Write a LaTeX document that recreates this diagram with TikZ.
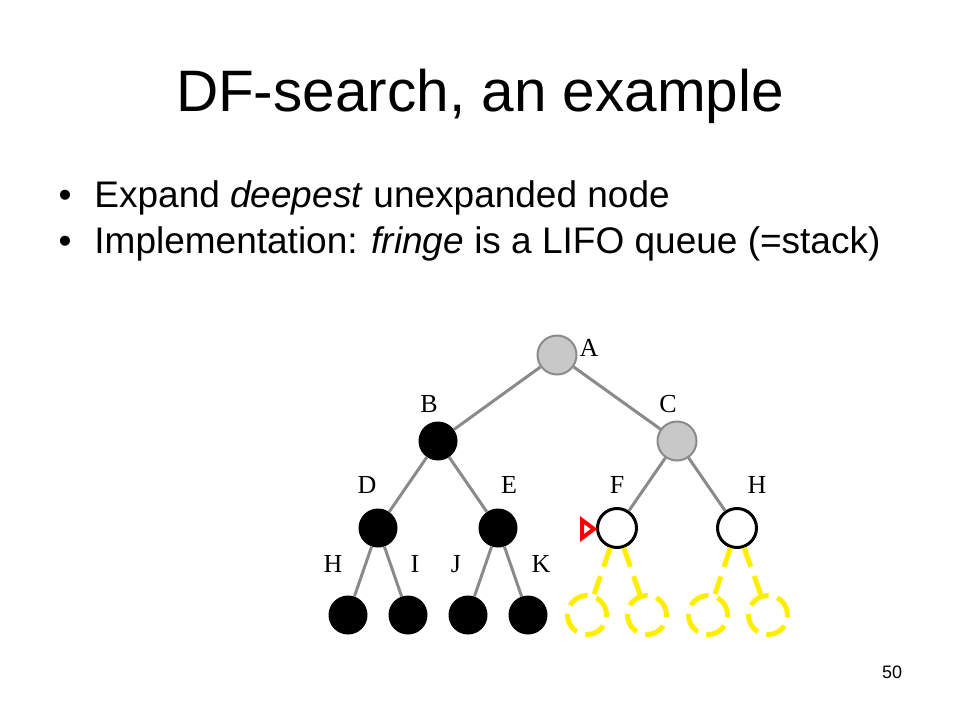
\documentclass[tikz,border=0pt]{standalone}
\usepackage{fontspec}
\setmainfont{Liberation Serif}
\setsansfont{Liberation Sans}
\usepackage{tikz}
\usepackage{xcolor}
\definecolor{edgegrey}{HTML}{8A8A8A}
\definecolor{nodegrey}{HTML}{C8C8C8}
\definecolor{fringeyellow}{HTML}{FFEE00}
\tikzset{
  tnode/.style={circle, minimum size=39pt, inner sep=0pt},
  expanded/.style={tnode, fill=black},
  visited/.style={tnode, fill=nodegrey, draw=edgegrey, line width=2pt},
  fringe/.style={tnode, fill=white, draw=black, line width=3pt},
  unseen/.style={tnode, draw=fringeyellow, line width=5pt, dash pattern=on 21pt off 9pt},
  tedge/.style={draw=edgegrey, line width=3pt},
  uedge/.style={draw=fringeyellow, line width=5pt, dash pattern=on 20pt off 10pt},
  lbl/.style={anchor=base, font=\fontsize{26}{26}\selectfont\rmfamily},
  bullet/.style={anchor=base west, font=\fontsize{37}{37}\selectfont\sffamily}
}
\begin{document}
\begin{tikzpicture}[x=1pt, y=-1pt]
        \useasboundingbox (0,0) rectangle (960,720);
        % Title and bullets
        \node[anchor=base, font=\fontsize{58.5}{58.5}\selectfont\sffamily] (title) at (480,111) {DF-search, an example};
        \node[bullet] (b1) at (55,207) {\textbullet\hspace{23pt}Expand \textit{deepest} unexpanded node};
        \node[bullet] (b2) at (55,253) {\textbullet\hspace{23pt}Implementation: \textit{fringe} is a LIFO queue (=stack)};
        % Tree nodes
        \node[visited] (A) at (557,355) {};
        \node[expanded] (B) at (438,441) {};
        \node[visited] (C) at (677,441) {};
        \node[expanded] (D) at (378,528) {};
        \node[expanded] (E) at (498,528) {};
        \node[fringe] (F) at (617,528) {};
        \node[fringe] (G) at (737,528) {};
        \node[expanded] (H) at (348,615) {};
        \node[expanded] (I) at (408,615) {};
        \node[expanded] (J) at (468,615) {};
        \node[expanded] (K) at (528,615) {};
        \node[unseen] (L) at (587,615) {};
        \node[unseen] (M) at (647,615) {};
        \node[unseen] (N) at (708,615) {};
        \node[unseen] (O) at (768,615) {};
        % Edges
        \draw[tedge] (A) -- (B);
        \draw[tedge] (A) -- (C);
        \draw[tedge] (B) -- (D);
        \draw[tedge] (B) -- (E);
        \draw[tedge] (C) -- (F);
        \draw[tedge] (C) -- (G);
        \draw[tedge] (D) -- (H);
        \draw[tedge] (D) -- (I);
        \draw[tedge] (E) -- (J);
        \draw[tedge] (E) -- (K);
        \draw[uedge] (F) -- (L);
        \draw[uedge] (F) -- (M);
        \draw[uedge] (G) -- (N);
        \draw[uedge] (G) -- (O);
        % Node letters
        \node[lbl] (lA) at (589,356) {A};
        \node[lbl] (lB) at (429,412) {B};
        \node[lbl] (lC) at (668,412) {C};
        \node[lbl] (lD) at (367,493) {D};
        \node[lbl] (lE) at (509,493) {E};
        \node[lbl] (lF) at (617,493) {F};
        \node[lbl] (lG) at (757,493) {H};
        \node[lbl] (lH) at (333,572) {H};
        \node[lbl] (lI) at (415,572) {I};
        \node[lbl] (lJ) at (456,572) {J};
        \node[lbl] (lK) at (541,572) {K};
        % Current node marker
        \draw[red, fill=white, line width=4pt, line join=miter] (582,520) -- (582,538) -- (594,529) -- cycle;
        % Page number
        \node[anchor=base, font=\fontsize{18}{18}\selectfont\sffamily] (page) at (892,678) {50};
\end{tikzpicture}
\end{document}
